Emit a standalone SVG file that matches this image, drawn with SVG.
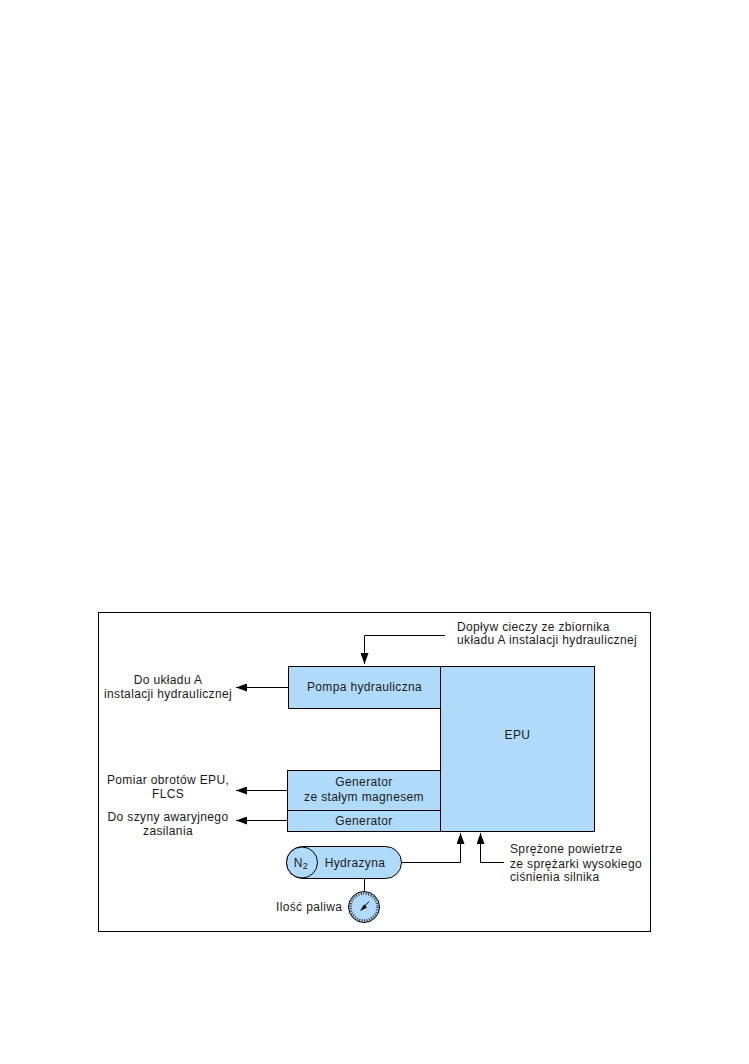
<svg xmlns="http://www.w3.org/2000/svg" width="749" height="1064" viewBox="0 0 749 1064">
<defs>
<style>
.box{fill:#b0daf9;stroke:#000;stroke-width:1}
.line{fill:none;stroke:#000;stroke-width:1}
.head{fill:#000;stroke:none}
text{font-family:"Liberation Sans",Arial,sans-serif;font-size:12px;letter-spacing:.36px;fill:#1a1a1a;text-anchor:middle}
.start{text-anchor:start}
</style>
<marker id="arrow" markerUnits="userSpaceOnUse" markerWidth="11" markerHeight="8" refX="11" refY="4" orient="auto"><path class="head" d="M0,0L11,4L0,8Z"/></marker>
</defs>
<rect width="749" height="1064" fill="#fff"/>
<rect x="98.500" y="612.500" width="552" height="319" fill="#fff" stroke="#000"/>
<g id="connectors">
<path class="line" d="M445,635.500H364.500V664" marker-end="url(#arrow)"/>
<path class="line" d="M288,687.500H236" marker-end="url(#arrow)"/>
<path class="line" d="M287,790.500H236" marker-end="url(#arrow)"/>
<path class="line" d="M287,820.500H236" marker-end="url(#arrow)"/>
<path class="line" d="M401,862.500H460.500V833" marker-end="url(#arrow)"/>
<path class="line" d="M504,862.500H480.500V833" marker-end="url(#arrow)"/>
<path class="line" d="M364.500,879V893"/>
</g>
<g id="epu"><rect class="box" x="440.500" y="666.500" width="154" height="165"/><text x="517.500" y="739">EPU</text></g>
<g id="pompa"><rect class="box" x="288.500" y="666.500" width="152" height="42"/><text x="364.500" y="691">Pompa hydrauliczna</text></g>
<g id="generator-magnes"><rect class="box" x="287.500" y="770.500" width="153" height="40"/><text x="364" y="786">Generator</text><text x="364" y="801">ze stałym magnesem</text></g>
<g id="generator"><rect class="box" x="287.500" y="810.500" width="153" height="21"/><text x="364" y="825">Generator</text></g>
<g id="hydrazyna"><rect class="box" x="286.500" y="846.500" width="115" height="32" rx="16"/><circle class="box" cx="302" cy="862.500" r="15.500"/><text x="301" y="866.500">N<tspan font-size="9" dy="2.500">2</tspan></text><text x="355" y="866.500">Hydrazyna</text></g>
<g id="miernik">
<circle cx="364" cy="907" r="15.500" fill="#b0daf9" stroke="#000"/>
<circle cx="364" cy="907" r="13.500" fill="none" stroke="#333" stroke-width="2.500" stroke-dasharray="1 1.500"/>
<path d="M362,909L369,901.500" stroke="#000" stroke-width="1"/>
<path d="M360,911L364,904.500L367,907.500Z" class="head"/>
</g>
<g id="labels">
<text class="start" x="457" y="631">Dopływ cieczy ze zbiornika</text>
<text class="start" x="457" y="644">układu A instalacji hydraulicznej</text>
<text x="168" y="684">Do układu A</text>
<text x="168" y="698">instalacji hydraulicznej</text>
<text x="168" y="784">Pomiar obrotów EPU,</text>
<text x="168" y="798">FLCS</text>
<text x="168" y="821">Do szyny awaryjnego</text>
<text x="168" y="835">zasilania</text>
<text class="start" x="510" y="853">Sprężone powietrze</text>
<text class="start" x="510" y="868">ze sprężarki wysokiego</text>
<text class="start" x="510" y="881">ciśnienia silnika</text>
<text class="start" x="276" y="911">Ilość paliwa</text>
</g>
</svg>
